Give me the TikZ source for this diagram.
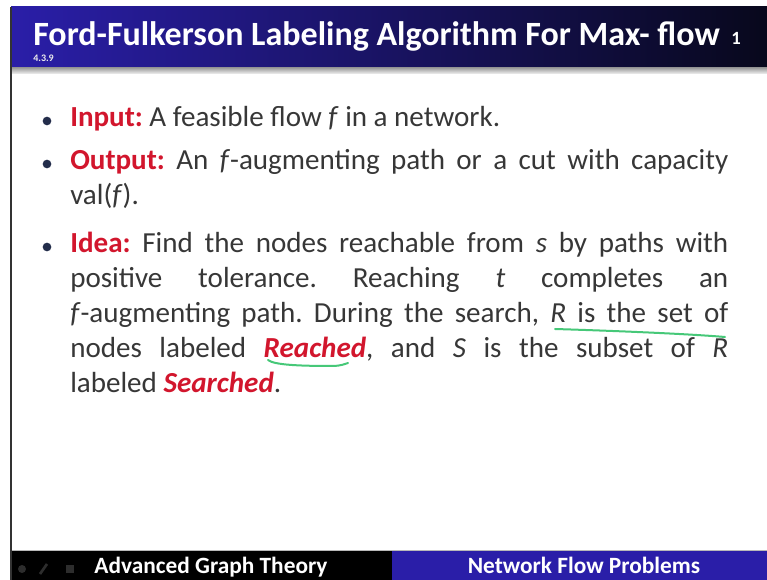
\documentclass[tikz,border=0pt]{standalone}
\usepackage{fontspec}
\setmainfont{Carlito}
\usetikzlibrary{positioning}

\definecolor{slideblue}{RGB}{42,30,168}
\definecolor{slidemid}{RGB}{30,22,120}
\definecolor{titledark}{RGB}{8,8,28}
\definecolor{keyred}{RGB}{210,22,45}
\definecolor{bodygray}{RGB}{55,55,55}
\definecolor{bulletnavy}{RGB}{35,45,75}
\definecolor{markgreen}{RGB}{70,200,120}
\definecolor{navgray}{RGB}{45,45,45}

\newcommand{\keyword}[1]{\textcolor{keyred}{\textbf{#1}}}
\newcommand{\keylabel}[1]{\textcolor{keyred}{\textbf{\textit{#1}}}}
\hbadness=10000
\frenchspacing

\begin{document}
\begin{tikzpicture}[
    x=0.75pt, y=-0.75pt,
    bodytext/.style={
        anchor=base west,
        inner sep=0pt,
        text width=493.5pt,
        align=justify,
        text=bodygray,
        font=\fontsize{21.8}{26.25}\selectfont
    },
    bulletdot/.style={circle, fill=bulletnavy, inner sep=0pt, minimum size=6.5pt},
    bartext/.style={text=white, inner sep=0pt, anchor=base, font=\bfseries\fontsize{17.5}{19}\selectfont},
    pen/.style={markgreen, line width=1.5pt, line cap=round}
]
    \useasboundingbox (0,0) rectangle (767,580);
    \fill[white] (0,0) rectangle (767,580);

    % title bar
    \shade[left color=slideblue, middle color=slidemid, right color=titledark]
        (11,7) rectangle (767,68);
    \shade[top color=gray!75, bottom color=gray!10] (11,68) rectangle (767,74);
    \node[anchor=base west, inner sep=0pt, text=white,
        font=\bfseries\fontsize{25.5}{30}\selectfont] (title) at (33,46)
        {Ford-Fulkerson Labeling Algorithm For Max- flow};
    \node[anchor=base west, inner sep=0pt, text=white,
        font=\bfseries\fontsize{14}{16}\selectfont] (pageno) at (731,45) {1};
    \node[anchor=base west, inner sep=0pt, text=white!85!gray,
        font=\bfseries\fontsize{7.5}{9}\selectfont] (section) at (33,62) {4.3.9};

    % body
    \node[bulletdot] (dotinput) at (47,121) {};
    \node[bodytext] (input) at (70,127)
        {\keyword{Input:} A feasible flow \textit{f} in a network.};

    \node[bulletdot] (dotoutput) at (47,164) {};
    \node[bodytext] (output) at (70,170)
        {\keyword{Output:} An \textit{f}-augmenting path or a cut with capacity\linebreak
        val(\textit{f}).};

    \node[bulletdot] (dotidea) at (47,247) {};
    \node[bodytext] (idea) at (70,253)
        {\keyword{Idea:} Find the nodes reachable from \textit{s} by paths with\linebreak
        positive tolerance. Reaching \textit{t} completes an\linebreak
        \textit{f}-augmenting path. During the search, \textit{R} is the set of\linebreak
        nodes labeled \keylabel{Reached}, and \textit{S} is the subset of \textit{R}\linebreak
        labeled \keylabel{Searched}.};

    % pen marks
    \draw[pen] (555,329) .. controls (620,331) and (690,334) .. (725,337);
    \draw[pen] (268,360) .. controls (274,365) and (300,366) .. (333,366)
        .. controls (340,366) and (345,364) .. (348,363);

    % footer
    \draw[gray!55, line width=1pt] (11,550.5) -- (767,550.5);
    \fill[black] (11,551) rectangle (392,580);
    \fill[slideblue] (392,551) rectangle (767,580);
    \fill[navgray] (22,569) circle (4);
    \draw[navgray, line width=2pt] (40,574) -- (47,564);
    \fill[navgray] (66,565) rectangle (74,573);
    \node[bartext] (course) at (211,573) {Advanced Graph Theory};
    \node[bartext] (topic) at (584,573) {Network Flow Problems};

    \draw[gray!40!black, line width=1.2pt] (11,7) -- (11,580);
\end{tikzpicture}
\end{document}
